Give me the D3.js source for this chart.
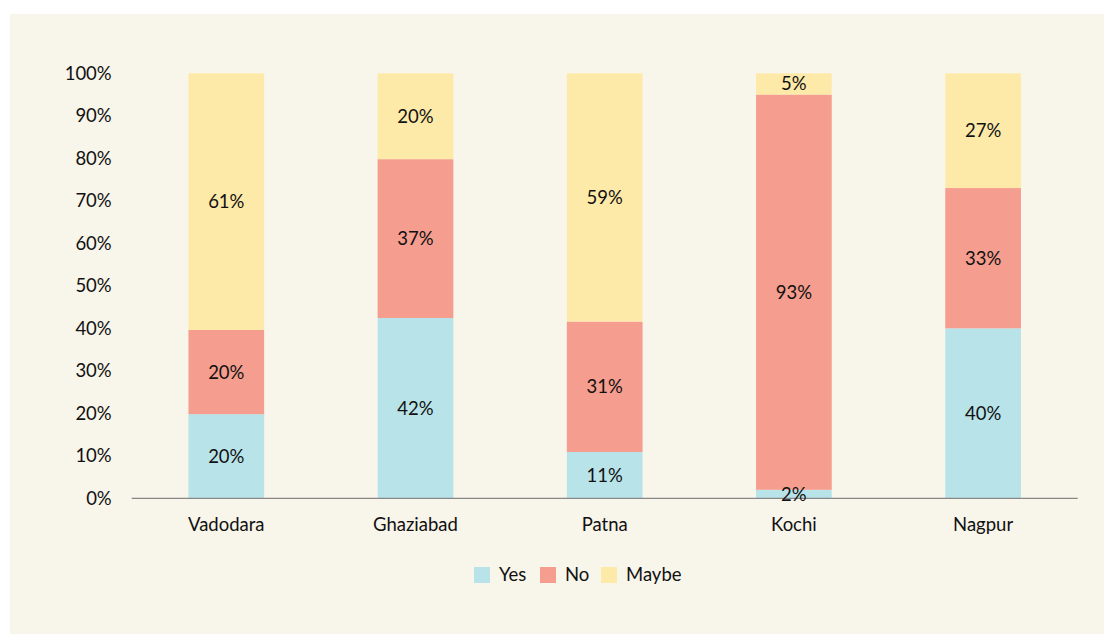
<!DOCTYPE html>
<html><head><meta charset="utf-8">
<script src="https://cdn.jsdelivr.net/npm/d3@7"></script>
<style>
html,body{margin:0;padding:0;background:#ffffff;}
svg{display:block;font-family:Lato,"Open Sans",sans-serif;}
</style></head>
<body><svg id="c" width="1104" height="634"></svg>
<script>
const categories = ["Vadodara","Ghaziabad","Patna","Kochi","Nagpur"];
const seriesNames = ["Yes","No","Maybe"];
const yesValues = [20,42,11,2,40];
const noValues = [20,37,31,93,33];
const maybeValues = [61,20,59,5,27];
const yTickLabels = ["0%","10%","20%","30%","40%","50%","60%","70%","80%","90%","100%"];
const colors = ["#B8E3E9","#F59D8E","#FEEAA8"];
const FS = 18.5;

const svg = d3.select("#c");
svg.append("rect").attr("x",10).attr("y",14).attr("width",1094).attr("height",620).attr("fill","#F8F5EA");

const plotL = 131.7, plotR = 1077.7, plotT = 73.3, plotB = 498.3;
const x = d3.scaleBand().domain(categories).range([plotL,plotR]).paddingInner(0).paddingOuter(0);
const y = d3.scaleLinear().domain([0,1]).range([plotB,plotT]);
const barW = x.bandwidth()*0.4;

const rows = categories.map((c,i)=>({cat:c, Yes:yesValues[i], No:noValues[i], Maybe:maybeValues[i]}));
const stack = d3.stack().keys(seriesNames).offset(d3.stackOffsetExpand);
const layers = stack(rows);

// y tick labels
yTickLabels.forEach((t,i)=>{
  svg.append("text").attr("x",plotL-20).attr("y",y(i/10)).attr("dy","0.35em")
    .attr("text-anchor","end").attr("font-size",FS).attr("fill","#111").text(t);
});

layers.forEach((layer,li)=>{
  const g = svg.append("g");
  layer.forEach((d,i)=>{
    const cx = x(categories[i]) + x.bandwidth()/2;
    g.append("rect").attr("x",cx-barW/2).attr("y",y(d[1])).attr("width",barW)
      .attr("height",y(d[0])-y(d[1])).attr("fill",colors[li]);
  });
});
// axis line
svg.append("line").attr("x1",plotL).attr("x2",plotR).attr("y1",plotB).attr("y2",plotB)
  .attr("stroke","#888").attr("stroke-width",1.3);

// data labels
layers.forEach((layer,li)=>{
  layer.forEach((d,i)=>{
    const cx = x(categories[i]) + x.bandwidth()/2;
    const raw = d.data[seriesNames[li]];
    svg.append("text").attr("x",cx).attr("y",(y(d[0])+y(d[1]))/2).attr("dy","0.35em")
      .attr("text-anchor","middle").attr("font-size",FS).attr("fill","#111").text(raw+"%");
  });
});

// x labels
categories.forEach(c=>{
  svg.append("text").attr("x",x(c)+x.bandwidth()/2).attr("y",525).attr("dy","0.35em")
    .attr("text-anchor","middle").attr("font-size",FS).attr("fill","#111").text(c);
});

// legend
const legX = [474,540,601];
seriesNames.forEach((s,i)=>{
  svg.append("rect").attr("x",legX[i]).attr("y",567).attr("width",16).attr("height",16).attr("fill",colors[i]);
  svg.append("text").attr("x",legX[i]+25).attr("y",575).attr("dy","0.35em")
    .attr("font-size",FS).attr("fill","#111").text(s);
});
</script></body></html>
